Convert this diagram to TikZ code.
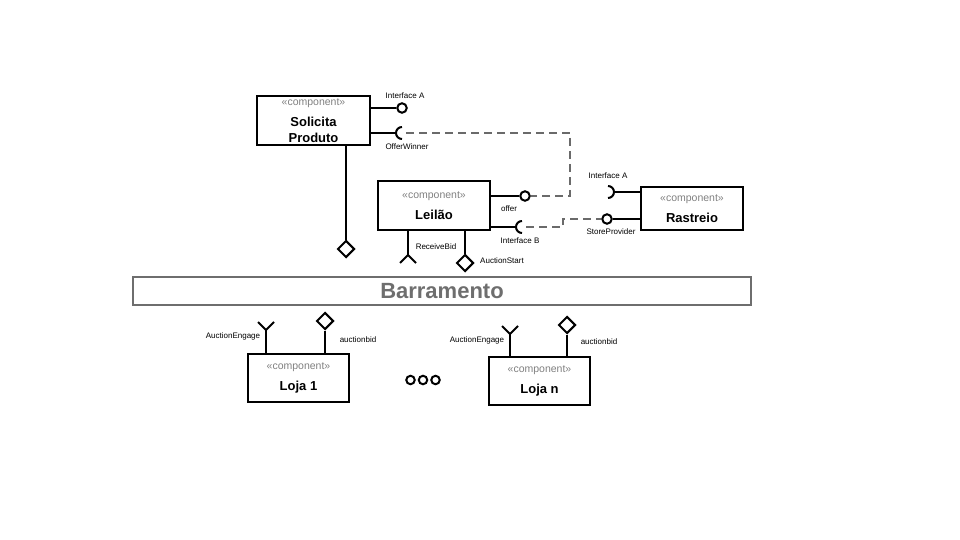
\documentclass[tikz,border=0pt]{standalone}
\usepackage{fontspec}
\setmainfont{Liberation Sans}
\usetikzlibrary{shapes.geometric}
\definecolor{stereogray}{HTML}{808080}
\definecolor{busgray}{HTML}{6E6E6E}
\definecolor{wiregray}{HTML}{6A6A6A}
\newcommand\compstereo{{\fontsize{10.5}{12}\selectfont\mdseries\color{stereogray}«component»}\\[5pt]}

\begin{document}
\begin{tikzpicture}[x=1pt,y=-1pt]
  \tikzstyle{comp}=[draw,line width=2pt,align=center,inner sep=0pt,font=\fontsize{13}{16}\selectfont\bfseries]
  \tikzstyle{lbl}=[font=\fontsize{8}{9}\selectfont,inner sep=0pt]
  \tikzstyle{ball}=[draw,circle,line width=2pt,minimum size=9.5pt,inner sep=0pt]
  \tikzstyle{port}=[draw,diamond,line width=2pt,minimum size=17pt,inner sep=0pt]
  \tikzstyle{wire}=[line width=2pt]
  \tikzstyle{link}=[line width=2pt,wiregray,dash pattern=on 8pt off 5pt]
  \useasboundingbox (0,0) rectangle (960,540);
  % components
  \node [comp,minimum width=113pt,minimum height=49pt] (solicita) at (313.5,120.5) {\compstereo Solicita\\Produto};
  \node [comp,minimum width=112pt,minimum height=49pt] (leilao) at (434,205.5) {\compstereo Leilão};
  \node [comp,minimum width=102pt,minimum height=43pt] (rastreio) at (692,208.5) {\compstereo Rastreio};
  \node [comp,minimum width=101pt,minimum height=48pt] (loja1) at (298.5,378) {\compstereo Loja 1};
  \node [comp,minimum width=101pt,minimum height=48pt] (lojan) at (539.5,381) {\compstereo Loja n};
  \node [draw=busgray,line width=2pt,minimum width=618pt,minimum height=28pt,text=busgray,
    font=\fontsize{22}{26}\selectfont\bfseries] (bus) at (442,291) {\raisebox{-1.5pt}{Barramento}};
  % Solicita Produto
  \node [ball] (solA) at (402,108) {};
  \draw [wire] (solicita.east |- solA) -- (solA);
  \node [lbl] at (405,96) {Interface A};
  \coordinate (winner) at (402,133);
  \draw [wire] (solicita.east |- winner) -- ([xshift=-6pt]winner);
  \draw [wire] ([yshift=-6pt]winner) arc [start angle=90,end angle=270,radius=6];
  \node [lbl] at (407,147) {OfferWinner};
  \node [port] (solport) at (346,249) {};
  \draw [wire] (solicita.south -| solport) -- (solport);
  % Leilao
  \node [ball] (offer) at (525,196) {};
  \draw [wire] (leilao.east |- offer) -- (offer);
  \node [lbl] at (509,209) {offer};
  \coordinate (leiB) at (522,227);
  \draw [wire] (leilao.east |- leiB) -- ([xshift=-6pt]leiB);
  \draw [wire] ([yshift=-6pt]leiB) arc [start angle=90,end angle=270,radius=6];
  \node [lbl] at (520,241) {Interface B};
  \coordinate (recv) at (408,255);
  \draw [wire] (leilao.south -| recv) -- (recv);
  \draw [wire] (recv) ++(-8,8) -- (recv) -- ++(8,8);
  \node [lbl] at (436,247) {ReceiveBid};
  \node [port] (start) at (465,263) {};
  \draw [wire] (leilao.south -| start) -- (start);
  \node [lbl] at (502,261) {AuctionStart};
  % Rastreio
  \coordinate (rasA) at (608,192);
  \draw [wire] (rastreio.west |- rasA) -- ([xshift=6pt]rasA);
  \draw [wire] ([yshift=6pt]rasA) arc [start angle=-90,end angle=90,radius=6];
  \node [lbl] at (608,176) {Interface A};
  \node [ball] (store) at (607,219) {};
  \draw [wire] (rastreio.west |- store) -- (store);
  \node [lbl] at (611,232) {StoreProvider};
  % dashed assembly links
  \draw [link] ([xshift=4pt]winner) -- ++(164,0) |- (offer);
  \draw [link] ([xshift=4pt]leiB) -- ++(37,0) |- (store);
  % Loja 1
  \coordinate (engage1) at (266,330);
  \draw [wire] (loja1.north -| engage1) -- (engage1);
  \draw [wire] (engage1) ++(-8,-8) -- (engage1) -- ++(8,-8);
  \node [lbl] at (233,336) {AuctionEngage};
  \node [port] (bid1) at (325,321) {};
  \draw [wire] (loja1.north -| bid1) -- (bid1);
  \node [lbl] at (358,340) {auctionbid};
  % Loja n
  \coordinate (engagen) at (510,334);
  \draw [wire] (lojan.north -| engagen) -- (engagen);
  \draw [wire] (engagen) ++(-8,-8) -- (engagen) -- ++(8,-8);
  \node [lbl] at (477,340) {AuctionEngage};
  \node [port] (bidn) at (567,325) {};
  \draw [wire] (lojan.north -| bidn) -- (bidn);
  \node [lbl] at (599,342) {auctionbid};
  % ellipsis
  \foreach \x in {410.5,423,435.5}
    \node [ball,minimum size=8.5pt] (dot\x) at (\x,380) {};
\end{tikzpicture}
\end{document}
